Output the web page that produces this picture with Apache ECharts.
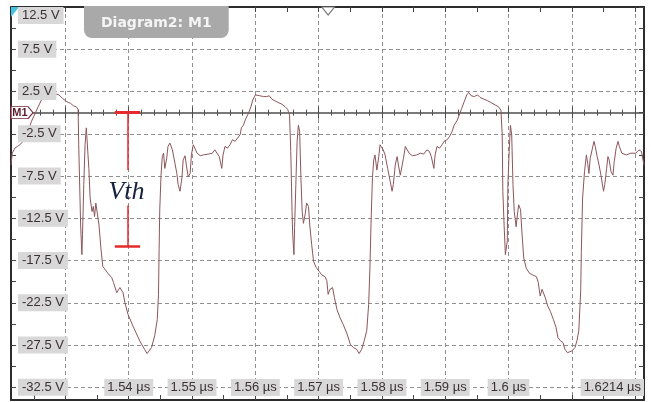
<!DOCTYPE html>
<html><head><meta charset="utf-8">
<script src="https://cdn.jsdelivr.net/npm/echarts@6/dist/echarts.min.js"></script>
<style>html,body{margin:0;padding:0;background:#fff}#chart{width:651px;height:402px}</style>
</head><body><div id="chart"></div>
<script>
// time in ns, voltage in V
const timeNs = [
1521.4,1521.6,1522.0,1522.4,1522.8,1523.3,1524.1,1524.6,1525.2,1525.7,1526.2,1526.7,1527.3,1527.6,1528.0,1528.6,1529.0,1529.5,1530.2,1530.8,
1531.3,1531.7,1532.0,1532.1,1532.3,1532.4,1532.6,1532.7,1532.9,1533.1,1533.3,1533.5,1533.7,1533.9,1534.2,1534.4,1534.6,1534.8,1535.1,1535.3,
1535.6,1535.9,1536.3,1536.7,1537.3,1537.6,1538.1,1538.6,1539.1,1539.4,1539.9,1540.7,1541.8,1542.5,1542.9,1543.6,1544.1,1544.5,1544.7,1544.8,
1544.9,1545.1,1545.3,1545.5,1545.7,1546.0,1546.2,1546.5,1546.9,1547.2,1547.6,1547.8,1548.1,1548.4,1548.6,1548.9,1549.1,1549.4,1549.7,1549.9,
1550.2,1550.5,1550.8,1551.3,1551.8,1552.6,1553.2,1553.6,1553.9,1554.3,1554.7,1554.9,1555.2,1555.6,1556.0,1556.4,1556.8,1557.2,1557.6,1557.8,
1558.1,1558.5,1558.9,1559.3,1559.6,1560.0,1560.3,1560.7,1561.3,1561.8,1562.2,1562.6,1563.1,1563.6,1564.2,1564.7,1565.1,1565.4,1565.6,1565.8,
1565.9,1566.1,1566.2,1566.4,1566.6,1566.8,1567.0,1567.2,1567.4,1567.6,1567.9,1568.1,1568.4,1568.6,1568.9,1569.2,1569.6,1570.1,1570.5,1571.0,
1571.3,1571.5,1571.8,1572.2,1572.5,1572.9,1573.4,1573.9,1574.5,1575.0,1575.5,1576.0,1576.4,1576.8,1577.2,1577.6,1577.9,1578.1,1578.3,1578.5,
1578.7,1578.9,1579.2,1579.5,1579.7,1580.0,1580.2,1580.5,1580.9,1581.3,1581.6,1581.8,1582.1,1582.4,1582.6,1582.9,1583.2,1583.4,1583.7,1583.9,
1584.3,1584.8,1585.5,1586.1,1586.6,1587.1,1587.5,1587.8,1588.2,1588.4,1588.7,1589.1,1589.5,1589.8,1590.3,1590.7,1591.1,1591.4,1591.9,1592.3,
1592.6,1593.0,1593.4,1593.7,1594.1,1594.6,1595.1,1595.5,1596.1,1596.7,1597.2,1597.9,1598.4,1598.8,1599.0,1599.1,1599.3,1599.5,1599.8,1599.9,
1600.1,1600.3,1600.5,1600.7,1600.9,1601.2,1601.4,1601.6,1601.9,1602.1,1602.4,1602.8,1603.3,1603.8,1604.4,1604.7,1605.0,1605.3,1605.6,1605.8,
1606.2,1606.6,1607.1,1607.5,1607.8,1608.2,1608.6,1608.9,1609.3,1609.6,1610.0,1610.5,1610.8,1611.1,1611.4,1611.5,1611.7,1612.0,1612.3,1612.5,
1612.7,1612.9,1613.2,1613.5,1613.7,1614.0,1614.3,1614.6,1615.0,1615.2,1615.5,1615.7,1615.9,1616.2,1616.5,1616.7,1617.0,1617.3,1617.5,1617.9,
1618.6,1619.3,1619.6,1620.1,1620.6,1621.0,1621.2,1621.4
];
const volts = [
-6.2,-4.8,-4.2,-4.0,-3.8,-3.4,-2.2,-1.1,-0.1,0.7,1.5,1.9,1.8,1.9,1.9,2.2,2.1,1.7,1.3,1.1,
0.8,0.7,0.4,-3.8,-10.1,-13.3,-16.8,-14.4,-8.5,-3.8,-1.8,-2.0,-6.6,-10.1,-11.7,-11.1,-12.3,-10.7,-10.9,-13.3,
-16.0,-18.2,-18.6,-19.0,-19.5,-20.1,-21.3,-20.7,-21.3,-22.5,-23.9,-25.3,-27.1,-28.0,-28.5,-27.8,-26.4,-24.5,-21.5,-16.2,
-11.5,-7.4,-5.2,-4.8,-6.6,-5.4,-4.0,-3.6,-4.4,-5.6,-7.2,-8.5,-9.3,-7.7,-5.6,-5.1,-6.2,-7.6,-7.2,-5.0,
-3.8,-4.0,-4.8,-5.1,-5.0,-4.9,-4.8,-4.4,-4.6,-5.2,-6.6,-5.0,-4.0,-4.2,-3.8,-3.2,-3.4,-3.0,-2.6,-1.8,
-1.5,-0.7,-0.1,0.7,1.5,2.1,2.3,2.0,1.9,1.9,2.0,1.6,1.4,1.2,1.0,0.7,0.4,-0.3,-4.6,-11.7,
-14.4,-16.8,-13.6,-8.5,-3.4,-1.5,-2.2,-7.7,-11.7,-13.1,-11.9,-10.7,-11.1,-13.3,-15.6,-17.6,-18.3,-18.8,-19.2,-19.4,
-19.9,-21.5,-20.9,-20.7,-21.9,-23.3,-24.3,-25.1,-26.2,-27.4,-27.8,-28.0,-28.5,-28.0,-27.0,-25.8,-22.7,-18.4,-12.5,-7.7,
-5.6,-5.0,-6.8,-5.2,-3.8,-3.6,-4.4,-5.0,-6.6,-8.1,-9.3,-8.5,-6.2,-5.2,-6.2,-7.4,-7.2,-5.4,-4.0,-4.2,
-4.8,-5.1,-5.0,-4.8,-4.9,-4.4,-4.6,-5.2,-6.6,-5.0,-4.0,-4.2,-3.8,-3.4,-3.2,-2.8,-2.2,-1.5,-0.9,-0.1,
0.5,1.3,2.1,2.4,2.0,1.9,2.1,1.8,1.6,1.4,1.2,0.9,0.7,0.3,-2.6,-9.3,-13.3,-16.8,-15.2,-8.5,
-4.6,-1.5,-2.6,-8.5,-11.7,-13.5,-12.1,-10.9,-11.5,-14.0,-17.2,-18.4,-19.0,-19.2,-19.4,-20.1,-21.7,-20.9,-20.7,-21.9,
-22.9,-23.5,-24.5,-25.4,-26.6,-27.0,-27.2,-28.0,-28.4,-28.2,-28.2,-27.8,-27.0,-25.8,-21.1,-16.4,-10.1,-7.0,-5.0,-6.0,
-7.2,-5.4,-4.4,-3.4,-4.0,-5.2,-6.2,-7.4,-9.3,-8.5,-6.6,-5.2,-5.6,-7.0,-7.4,-5.8,-4.2,-3.4,-4.0,-4.8,
-5.0,-4.8,-4.6,-4.8,-4.4,-4.6,-4.8,-6.2
];

const xMin = 1521.4, xMax = 1621.4;
const yMin = -34, yMax = 12.5;
const xDivisions = [1530,1540,1550,1560,1570,1580,1590,1600,1610,1620];
const xHalfOffsets = [1525,1535,1545,1555,1565,1575,1585,1595,1605,1615];
const xLabelValues = [1540,1550,1560,1570,1580,1590,1600,1621.4];
const xTickLabels = ['1.54 µs','1.55 µs','1.56 µs','1.57 µs','1.58 µs','1.59 µs','1.6 µs','1.6214 µs'];
const yDivisions = [-32.5,-27.5,-22.5,-17.5,-12.5,-7.5,-2.5,2.5,7.5,12.5];
const yHalfOffsets = [-30,-25,-20,-15,-10,-5,0,5,10];
const yTickLabels = ['-32.5 V','-27.5 V','-22.5 V','-17.5 V','-12.5 V','-7.5 V','-2.5 V','2.5 V','7.5 V','12.5 V'];
const xMinorTicks = [];
for (let t = 1522; t <= 1620; t += 2) xMinorTicks.push(t);

const vthTime = 1539.8, vthTop = 0, vthBottom = -15.8, vthGapTop = -6.8, vthGapBottom = -11.0, vthTextLevel = -9.4, vthCapHalf = 2.0;
const triggerTime = 1571.5;

const labelFont = 'Liberation Sans';
const labelBg = '#d8d8d8';
const labelColor = '#3b3033';
const borderColor = '#2d2d2d';
const gridColor = '#8f8f8f';

function labelText(values, texts, v) {
  for (let i = 0; i < values.length; i++) if (Math.abs(values[i] - v) < 0.01) return texts[i];
  return '';
}

function xAx(extra) {
  return Object.assign({
    type: 'value', min: xMin, max: xMax, gridIndex: 0, position: 'bottom',
    axisLine: { show: false, onZero: false },
    axisTick: { show: false }, axisLabel: { show: false }, splitLine: { show: false }
  }, extra);
}
function yAx(extra) {
  return Object.assign({
    type: 'value', min: yMin, max: yMax, gridIndex: 0, position: 'left',
    axisLine: { show: false, onZero: false },
    axisTick: { show: false }, axisLabel: { show: false }, splitLine: { show: false }
  }, extra);
}

const chart = echarts.init(document.getElementById('chart'), null, { renderer: 'canvas' });
chart.setOption({
  animation: false,
  backgroundColor: '#ffffff',
  title: {
    text: 'Diagram2: M1', left: 84, top: 6,
    backgroundColor: '#a9a9a9', borderRadius: [0, 0, 8, 8],
    padding: [9, 17, 7, 17],
    textStyle: { color: '#f5f5f5', fontSize: 14, fontWeight: 'bold', fontFamily: 'DejaVu Sans', lineHeight: 16 }
  },
  grid: { left: 11, right: 7, top: 7, bottom: 2, outerBoundsMode: 'none' },
  xAxis: [
    // 0: bottom border, gridlines, division ticks
    xAx({ z: 0,
      axisLine: { show: true, onZero: false, lineStyle: { color: borderColor, width: 2 } },
      axisTick: { show: true, inside: true, length: 5, customValues: xDivisions, lineStyle: { color: '#444', width: 1 } },
      splitLine: { show: true, lineStyle: { color: gridColor, type: [4, 3], width: 1 } } }),
    // 1: labels
    xAx({ z: 6,
      axisLabel: { show: true, inside: true, margin: 4, customValues: xLabelValues,
        formatter: v => labelText(xLabelValues, xTickLabels, v),
        color: labelColor, fontSize: 13, fontFamily: labelFont, backgroundColor: labelBg,
        padding: [1, 3, 1, 3], lineHeight: 15, alignMaxLabel: 'right', showMinLabel: true, showMaxLabel: true } }),
    // 2: bottom half-division ticks
    xAx({ axisTick: { show: true, inside: true, length: 5, customValues: xHalfOffsets, lineStyle: { color: '#444', width: 1 } } }),
    // 3: top border with half-division ticks
    xAx({ position: 'top',
      axisLine: { show: true, onZero: false, lineStyle: { color: borderColor, width: 2 } },
      axisTick: { show: true, inside: true, length: 5, customValues: xDivisions.concat(xHalfOffsets), lineStyle: { color: '#444', width: 1 } } }),
    // 4: center line (0 V) with minor ticks upward
    xAx({ axisLine: { show: true, onZero: true, onZeroAxisIndex: 0, lineStyle: { color: '#4d4d4d', width: 1.5 } },
      axisTick: { show: true, inside: true, length: 3, customValues: xMinorTicks, lineStyle: { color: '#4d4d4d', width: 1 } } }),
    // 5: center line minor ticks downward
    xAx({ axisLine: { show: false, onZero: true, onZeroAxisIndex: 0 },
      axisTick: { show: true, inside: false, length: 3, customValues: xMinorTicks, lineStyle: { color: '#4d4d4d', width: 1 } } }),
    // 6/7: center line division ticks
    xAx({ axisLine: { show: false, onZero: true, onZeroAxisIndex: 0 },
      axisTick: { show: true, inside: true, length: 6, customValues: xDivisions, lineStyle: { color: '#4d4d4d', width: 1 } } }),
    xAx({ axisLine: { show: false, onZero: true, onZeroAxisIndex: 0 },
      axisTick: { show: true, inside: false, length: 6, customValues: xDivisions, lineStyle: { color: '#4d4d4d', width: 1 } } })
  ],
  yAxis: [
    // 0: left border, gridlines, division ticks
    yAx({ z: 0,
      axisLine: { show: true, onZero: false, lineStyle: { color: borderColor, width: 2 } },
      axisTick: { show: true, inside: true, length: 5, customValues: yDivisions, lineStyle: { color: '#444', width: 1 } },
      splitLine: { show: true, lineStyle: { color: gridColor, type: [4, 3], width: 1 } } }),
    // 1: labels
    yAx({ z: 6,
      axisLabel: { show: true, inside: true, margin: 7, customValues: yDivisions,
        formatter: v => labelText(yDivisions, yTickLabels, v),
        color: labelColor, fontSize: 13, fontFamily: labelFont, backgroundColor: labelBg,
        padding: [1, 4, 1, 4], lineHeight: 15, verticalAlignMaxLabel: 'top', showMinLabel: true, showMaxLabel: true } }),
    // 2: left half-division ticks
    yAx({ axisTick: { show: true, inside: true, length: 5, customValues: yHalfOffsets, lineStyle: { color: '#444', width: 1 } } }),
    // 3: right border
    yAx({ position: 'right',
      axisLine: { show: true, onZero: false, lineStyle: { color: borderColor, width: 2 } },
      axisTick: { show: true, inside: true, length: 5, customValues: yDivisions.concat(yHalfOffsets), lineStyle: { color: '#444', width: 1 } } })
  ],
  series: [{
    type: 'line', xAxisIndex: 0, yAxisIndex: 0, z: 2,
    data: timeNs.map((t, i) => [t, volts[i]]),
    showSymbol: false, symbol: 'none',
    lineStyle: { color: '#8c565b', width: 1 },
    silent: true, clip: true,
    markLine: {
      silent: true, symbol: ['none', 'none'], label: { show: false },
      lineStyle: { color: '#e42a2a', width: 1.5, type: 'solid' },
      data: [
        [{ coord: [vthTime, vthTop] }, { coord: [vthTime, vthGapTop] }],
        [{ coord: [vthTime, vthGapBottom] }, { coord: [vthTime, vthBottom] }],
        [{ coord: [vthTime - vthCapHalf, vthTop], lineStyle: { width: 3 } }, { coord: [vthTime + vthCapHalf, vthTop] }],
        [{ coord: [vthTime - vthCapHalf, vthBottom], lineStyle: { width: 2.5 } }, { coord: [vthTime + vthCapHalf, vthBottom] }]
      ]
    },
    markPoint: {
      silent: true,
      data: [
        { coord: [vthTime, vthTextLevel], symbol: 'circle', symbolSize: 1,
          itemStyle: { color: 'rgba(0,0,0,0)' },
          label: { show: true, position: 'inside', formatter: 'Vth', offset: [-1, 0],
            fontFamily: 'Liberation Serif', fontStyle: 'italic', fontSize: 26, color: '#16223d' } },
        { coord: [triggerTime, yMax], symbol: 'triangle', symbolRotate: 180, symbolSize: [13, 8], symbolOffset: [0, 4],
          itemStyle: { color: '#ffffff', borderColor: '#777', borderWidth: 1 }, label: { show: false } },
        { coord: [xMin, 0], symbol: 'path://M0,0 L17,0 L22,6 L17,12 L0,12 Z', symbolKeepAspect: false,
          symbolSize: [22, 12], symbolOffset: [11, 0],
          itemStyle: { color: '#ffffff', borderColor: '#7a2a3a', borderWidth: 1 },
          label: { show: true, position: 'inside', formatter: 'M1', offset: [-2, 0],
            fontSize: 11, fontWeight: 'bold', fontFamily: labelFont, color: '#5b1d2b' } },
        { coord: [xMin, yMax], symbol: 'path://M0,0 L10,0 L0,10 Z', symbolKeepAspect: false,
          symbolSize: [8, 10], symbolOffset: [4, 5],
          itemStyle: { color: '#41c3dd' }, label: { show: false } }
      ]
    }
  }]
});
</script>
</body></html>
